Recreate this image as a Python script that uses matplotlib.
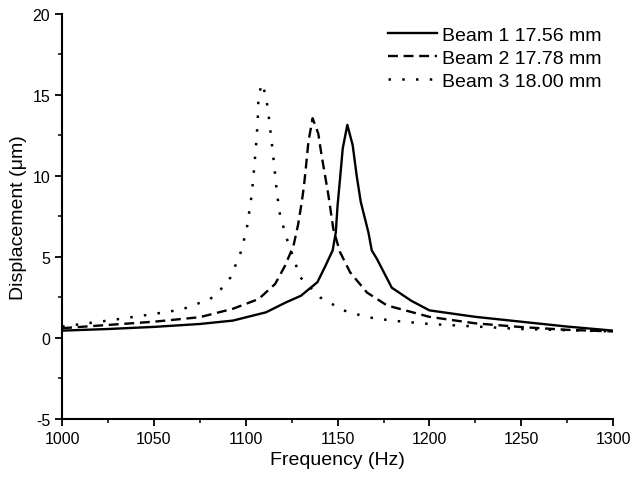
import matplotlib.pyplot as plt
from matplotlib.ticker import MultipleLocator

plt.rcParams['font.family'] = ['Liberation Sans', 'DejaVu Sans']
plt.rcParams['axes.unicode_minus'] = False

# Beam 1 (17.56 mm)
freq1 = [1000, 1025, 1050, 1075, 1093, 1111, 1122, 1130, 1139, 1143, 1147.3, 1149,
         1150, 1151.3, 1152.8, 1155.3, 1158.2, 1160.4, 1162.6, 1166.8, 1168.6,
         1171.3, 1179.5, 1190, 1200, 1225, 1250, 1275, 1300]
disp1 = [0.45, 0.55, 0.68, 0.86, 1.07, 1.58, 2.2, 2.6, 3.44, 4.36, 5.4, 6.5,
         8.2, 9.8, 11.7, 13.15, 11.9, 10.0, 8.4, 6.5, 5.4,
         4.9, 3.1, 2.3, 1.7, 1.3, 1.0, 0.7, 0.45]

# Beam 2 (17.78 mm)
freq2 = [1000, 1025, 1050, 1075, 1093, 1107, 1116, 1121.4, 1126, 1128.5, 1130.5,
         1131.7, 1132.8, 1134.1, 1136.4, 1139.5, 1141.3, 1143.2, 1145, 1147.7,
         1151.3, 1156.8, 1166, 1177, 1200, 1225, 1250, 1275, 1300]
disp2 = [0.6, 0.8, 1.0, 1.28, 1.8, 2.4, 3.33, 4.46, 5.7, 7.0, 8.4,
         9.4, 10.6, 12.1, 13.56, 12.6, 11.25, 10.0, 8.8, 6.7,
         5.3, 4.05, 2.8, 2.0, 1.3, 0.9, 0.67, 0.5, 0.4]

# Beam 3 (18.00 mm)
freq3 = [1000, 1025, 1050, 1065, 1080.6, 1086.4, 1091.8, 1097.3, 1100.5, 1103.3,
         1104.5, 1105.6, 1106.5, 1106.9, 1108.7, 1111, 1112.8, 1114.2, 1115.6,
         1116.9, 1118.7, 1122.7, 1129.6, 1140.5, 1153.2, 1166, 1179.5, 1200,
         1250, 1300]
disp3 = [0.7, 1.07, 1.48, 1.75, 2.4, 3.0, 3.75, 5.3, 6.7, 8.9,
         10.4, 11.9, 13.4, 14.86, 15.7, 14.96, 13.4, 12.0, 10.5,
         9.0, 7.55, 6.0, 3.75, 2.5, 1.7, 1.28, 1.07, 0.86,
         0.55, 0.4]

labels = ['Beam 1 17.56 mm', 'Beam 2 17.78 mm', 'Beam 3 18.00 mm']

fig = plt.figure(figsize=(6.34, 4.81), dpi=100)
ax = fig.add_axes([0.098, 0.127, 0.869, 0.842])

ax.plot(freq1, disp1, color='black', lw=1.7, label=labels[0])
ax.plot(freq2, disp2, color='black', lw=1.7, dashes=(4.2, 2.4), label=labels[1])
ax.plot(freq3, disp3, color='black', lw=1.8, dashes=(1, 4.5), label=labels[2])

ax.set_xlim(1000, 1300)
ax.set_ylim(-5, 20)
ax.xaxis.set_major_locator(MultipleLocator(50))
ax.xaxis.set_minor_locator(MultipleLocator(25))
ax.yaxis.set_major_locator(MultipleLocator(5))
ax.yaxis.set_minor_locator(MultipleLocator(2.5))

for side in ['top', 'right']:
    ax.spines[side].set_visible(False)
for side in ['left', 'bottom']:
    ax.spines[side].set_linewidth(1.5)

ax.tick_params(which='major', direction='out', length=5, width=1.3, labelsize=11.5)
ax.tick_params(which='minor', direction='out', length=3, width=1.1)

ax.set_xlabel('Frequency (Hz)', fontsize=14)
ax.set_ylabel('Displacement (μm)', fontsize=14)

ax.legend(loc='upper right', bbox_to_anchor=(1.0, 0.998), frameon=False, fontsize=14,
          handlelength=2.5, handletextpad=0.25, labelspacing=0.28, borderaxespad=0.2)

fig.savefig('out.png', dpi=100)
